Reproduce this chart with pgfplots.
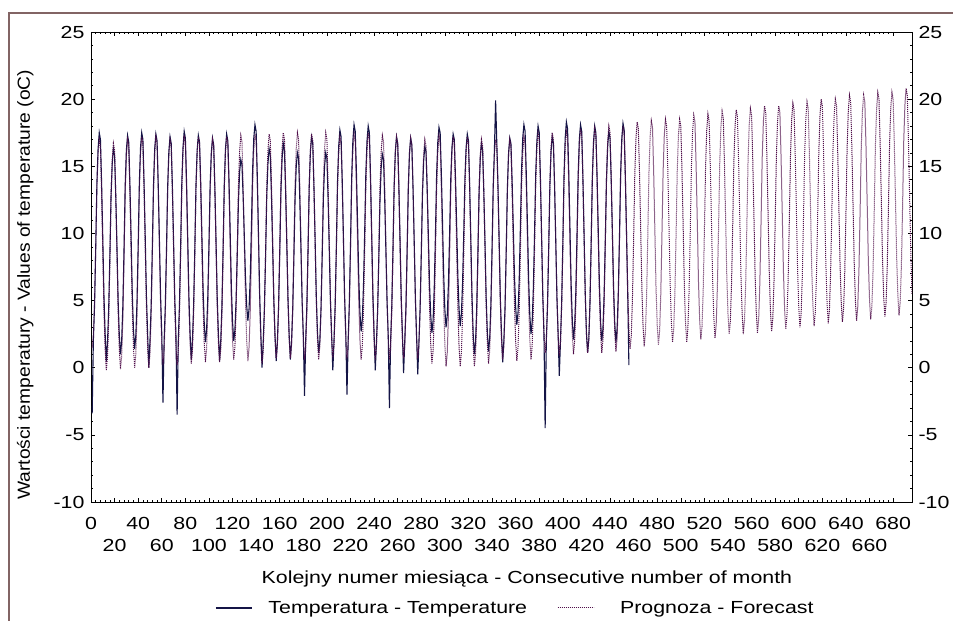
\documentclass[border=0pt]{standalone}
\usepackage{fontspec}
\setmainfont{Liberation Sans}[FakeStretch=1.22]
\newfontfamily\ylabfont{Liberation Sans}[FakeStretch=1.10]
\usepackage{pgfplots}
\usepackage{pgfplotstable}
\pgfplotsset{compat=1.18}

\definecolor{tempc}{RGB}{20,20,70}
\definecolor{progc}{RGB}{80,15,75}
\definecolor{framec}{RGB}{130,100,100}

% monthly temperature, one line per year (months 1..456)
\pgfplotstableread[row sep=\\]{
t\\
-3.4\\ 2.0\\ 4.6\\ 8.9\\ 13.7\\ 16.3\\ 17.5\\ 17.0\\ 13.7\\ 9.6\\ 5.3\\ 2.5\\
0.5\\ 1.9\\ 4.4\\ 8.3\\ 12.8\\ 15.2\\ 16.3\\ 15.8\\ 12.8\\ 9.0\\ 5.0\\ 2.4\\
1.0\\ 2.0\\ 4.6\\ 8.8\\ 13.6\\ 16.2\\ 17.3\\ 16.8\\ 13.6\\ 9.7\\ 5.5\\ 2.8\\
1.4\\ 2.4\\ 4.9\\ 9.1\\ 13.8\\ 16.4\\ 17.5\\ 17.0\\ 13.7\\ 9.6\\ 5.3\\ 2.5\\
0.0\\ 2.0\\ 4.6\\ 8.9\\ 13.6\\ 16.3\\ 17.4\\ 16.9\\ 13.6\\ 9.5\\ 5.3\\ 2.5\\
-2.6\\ 2.0\\ 4.6\\ 8.8\\ 13.5\\ 16.1\\ 17.2\\ 16.7\\ 13.5\\ 9.4\\ 5.2\\ 2.5\\
-3.5\\ 2.0\\ 4.7\\ 9.0\\ 13.8\\ 16.4\\ 17.6\\ 17.1\\ 13.8\\ 9.6\\ 5.3\\ 2.5\\
0.6\\ 2.0\\ 4.6\\ 8.8\\ 13.6\\ 16.2\\ 17.3\\ 16.8\\ 13.8\\ 9.9\\ 5.9\\ 3.3\\
1.9\\ 2.8\\ 5.2\\ 9.2\\ 13.6\\ 16.0\\ 17.1\\ 16.6\\ 13.4\\ 9.4\\ 5.2\\ 2.5\\
0.5\\ 2.0\\ 4.6\\ 8.9\\ 13.6\\ 16.3\\ 17.4\\ 16.9\\ 13.9\\ 10.0\\ 6.0\\ 3.4\\
2.0\\ 2.8\\ 5.0\\ 8.5\\ 12.4\\ 14.6\\ 15.5\\ 15.1\\ 12.7\\ 9.7\\ 6.6\\ 4.6\\
3.5\\ 4.4\\ 6.7\\ 10.5\\ 14.7\\ 17.1\\ 18.1\\ 17.6\\ 14.2\\ 9.9\\ 5.4\\ 2.5\\
0.0\\ 1.9\\ 4.4\\ 8.3\\ 12.8\\ 15.2\\ 16.3\\ 15.8\\ 12.8\\ 9.0\\ 5.0\\ 2.4\\
0.5\\ 1.9\\ 4.5\\ 8.5\\ 13.1\\ 15.6\\ 16.7\\ 16.2\\ 13.1\\ 9.2\\ 5.1\\ 2.4\\
0.6\\ 1.9\\ 4.3\\ 8.2\\ 12.6\\ 15.0\\ 16.0\\ 15.6\\ 12.6\\ 8.8\\ 4.9\\ 2.4\\
-2.1\\ 2.0\\ 4.6\\ 8.8\\ 13.5\\ 16.1\\ 17.2\\ 16.7\\ 13.5\\ 9.5\\ 5.3\\ 2.6\\
1.1\\ 2.0\\ 4.4\\ 8.3\\ 12.6\\ 15.0\\ 16.0\\ 15.6\\ 12.6\\ 8.8\\ 4.9\\ 2.4\\
-0.2\\ 2.0\\ 4.7\\ 9.0\\ 13.9\\ 16.5\\ 17.7\\ 17.2\\ 13.9\\ 9.7\\ 5.3\\ 2.5\\
-2.0\\ 2.0\\ 4.8\\ 9.2\\ 14.2\\ 16.9\\ 18.1\\ 17.6\\ 14.6\\ 10.7\\ 6.7\\ 4.1\\
2.7\\ 3.6\\ 6.1\\ 10.0\\ 14.5\\ 16.9\\ 18.0\\ 17.5\\ 14.1\\ 9.8\\ 5.4\\ 2.5\\
-0.2\\ 1.9\\ 4.3\\ 8.2\\ 12.5\\ 14.9\\ 15.9\\ 15.5\\ 12.5\\ 8.7\\ 4.9\\ 2.3\\
-3.0\\ 2.0\\ 4.6\\ 8.8\\ 13.5\\ 16.1\\ 17.2\\ 16.7\\ 13.5\\ 9.4\\ 5.2\\ 2.5\\
-0.4\\ 2.0\\ 4.5\\ 8.7\\ 13.4\\ 16.0\\ 17.1\\ 16.6\\ 13.4\\ 9.4\\ 5.2\\ 2.4\\
-0.5\\ 1.9\\ 4.4\\ 8.4\\ 12.9\\ 15.4\\ 16.5\\ 16.1\\ 13.3\\ 9.8\\ 6.2\\ 3.9\\
2.6\\ 3.5\\ 6.0\\ 9.9\\ 14.4\\ 16.8\\ 17.9\\ 17.5\\ 14.5\\ 10.8\\ 6.9\\ 4.3\\
3.0\\ 3.9\\ 6.2\\ 9.9\\ 14.1\\ 16.4\\ 17.4\\ 17.0\\ 14.1\\ 10.5\\ 6.8\\ 4.4\\
3.1\\ 4.0\\ 6.3\\ 10.0\\ 14.1\\ 16.4\\ 17.4\\ 16.9\\ 13.6\\ 9.5\\ 5.3\\ 2.5\\
1.0\\ 1.9\\ 4.5\\ 8.5\\ 13.1\\ 15.6\\ 16.7\\ 16.2\\ 13.1\\ 9.3\\ 5.2\\ 2.6\\
1.2\\ 2.2\\ 4.7\\ 8.9\\ 13.6\\ 16.2\\ 19.9\\ 16.8\\ 13.6\\ 9.5\\ 5.2\\ 2.5\\
0.4\\ 2.0\\ 4.5\\ 8.7\\ 13.4\\ 16.0\\ 17.1\\ 16.7\\ 13.9\\ 10.4\\ 6.8\\ 4.5\\
3.2\\ 4.1\\ 6.5\\ 10.4\\ 14.7\\ 17.1\\ 18.1\\ 17.6\\ 14.5\\ 10.6\\ 6.6\\ 3.9\\
2.5\\ 3.4\\ 5.9\\ 9.9\\ 14.4\\ 16.9\\ 18.0\\ 17.5\\ 14.1\\ 9.8\\ 5.4\\ 2.5\\
-4.5\\ 2.0\\ 4.6\\ 8.8\\ 13.5\\ 16.1\\ 17.2\\ 16.7\\ 13.5\\ 9.4\\ 5.2\\ 2.5\\
-0.6\\ 2.0\\ 4.8\\ 9.3\\ 14.3\\ 17.1\\ 18.3\\ 17.8\\ 14.6\\ 10.5\\ 6.3\\ 3.6\\
2.1\\ 3.1\\ 5.6\\ 9.8\\ 14.4\\ 17.0\\ 18.1\\ 17.6\\ 14.2\\ 9.9\\ 5.5\\ 2.6\\
1.1\\ 2.1\\ 4.8\\ 9.2\\ 14.1\\ 16.8\\ 18.0\\ 17.5\\ 14.3\\ 10.3\\ 6.2\\ 3.4\\
2.0\\ 2.9\\ 5.4\\ 9.5\\ 14.0\\ 16.5\\ 17.6\\ 17.1\\ 14.0\\ 10.1\\ 6.0\\ 3.3\\
1.9\\ 2.9\\ 5.5\\ 9.7\\ 14.5\\ 17.1\\ 18.2\\ 17.7\\ 14.2\\ 9.9\\ 5.5\\ 0.2\\
}\temp

% fitted values and forecast (months 1..696)
\pgfplotstableread[row sep=\\]{
f\\
1.5\\ 2.4\\ 4.9\\ 8.9\\ 13.4\\ 15.9\\ 17.0\\ 16.5\\ 13.0\\ 8.7\\ 4.3\\ 1.4\\
-0.2\\ 0.8\\ 3.5\\ 7.9\\ 12.8\\ 15.5\\ 16.7\\ 16.2\\ 12.8\\ 8.6\\ 4.3\\ 1.4\\
-0.1\\ 0.9\\ 3.7\\ 8.1\\ 13.1\\ 15.8\\ 17.0\\ 16.5\\ 13.1\\ 8.8\\ 4.4\\ 1.5\\
0.0\\ 1.0\\ 3.8\\ 8.3\\ 13.2\\ 16.0\\ 17.2\\ 16.7\\ 13.2\\ 8.9\\ 4.5\\ 1.5\\
0.0\\ 1.0\\ 3.8\\ 8.3\\ 13.2\\ 16.0\\ 17.2\\ 16.7\\ 13.3\\ 9.0\\ 4.6\\ 1.7\\
0.2\\ 1.2\\ 3.9\\ 8.3\\ 13.1\\ 15.8\\ 17.0\\ 16.5\\ 13.1\\ 8.9\\ 4.6\\ 1.7\\
0.2\\ 1.2\\ 4.0\\ 8.4\\ 13.4\\ 16.1\\ 17.3\\ 16.8\\ 13.4\\ 9.1\\ 4.7\\ 1.8\\
0.3\\ 1.3\\ 4.0\\ 8.4\\ 13.3\\ 16.0\\ 17.2\\ 16.7\\ 13.3\\ 9.1\\ 4.8\\ 1.9\\
0.4\\ 1.4\\ 4.1\\ 8.4\\ 13.2\\ 15.8\\ 17.0\\ 16.5\\ 13.2\\ 9.0\\ 4.7\\ 1.9\\
0.4\\ 1.4\\ 4.1\\ 8.5\\ 13.3\\ 16.0\\ 17.2\\ 16.7\\ 13.4\\ 9.2\\ 4.9\\ 2.1\\
0.6\\ 1.6\\ 4.3\\ 8.6\\ 13.5\\ 16.1\\ 17.3\\ 16.8\\ 13.4\\ 9.2\\ 4.9\\ 2.0\\
0.5\\ 1.5\\ 4.2\\ 8.6\\ 13.5\\ 16.2\\ 17.4\\ 16.9\\ 13.5\\ 9.2\\ 4.8\\ 1.8\\
0.3\\ 1.3\\ 4.1\\ 8.5\\ 13.5\\ 16.2\\ 17.4\\ 16.9\\ 13.6\\ 9.4\\ 5.0\\ 2.2\\
0.7\\ 1.7\\ 4.4\\ 8.8\\ 13.6\\ 16.3\\ 17.5\\ 17.0\\ 13.6\\ 9.4\\ 5.1\\ 2.2\\
0.7\\ 1.7\\ 4.4\\ 8.8\\ 13.6\\ 16.3\\ 17.5\\ 17.0\\ 13.6\\ 9.4\\ 5.0\\ 2.1\\
0.6\\ 1.6\\ 4.3\\ 8.7\\ 13.5\\ 16.2\\ 17.4\\ 16.9\\ 13.5\\ 9.3\\ 5.0\\ 2.1\\
0.6\\ 1.6\\ 4.3\\ 8.7\\ 13.6\\ 16.3\\ 17.5\\ 17.0\\ 13.6\\ 9.4\\ 5.1\\ 2.2\\
0.7\\ 1.7\\ 4.3\\ 8.6\\ 13.4\\ 16.0\\ 17.2\\ 16.7\\ 13.4\\ 9.3\\ 5.0\\ 2.2\\
0.7\\ 1.7\\ 4.4\\ 8.7\\ 13.6\\ 16.2\\ 17.4\\ 16.9\\ 13.5\\ 9.3\\ 5.0\\ 2.1\\
0.6\\ 1.6\\ 4.3\\ 8.7\\ 13.6\\ 16.3\\ 17.5\\ 17.0\\ 13.6\\ 9.4\\ 5.0\\ 2.1\\
0.6\\ 1.6\\ 4.3\\ 8.6\\ 13.5\\ 16.1\\ 17.3\\ 16.8\\ 13.5\\ 9.3\\ 4.9\\ 2.1\\
0.6\\ 1.6\\ 4.3\\ 8.6\\ 13.4\\ 16.0\\ 17.2\\ 16.7\\ 13.4\\ 9.3\\ 5.0\\ 2.2\\
0.7\\ 1.7\\ 4.3\\ 8.6\\ 13.3\\ 16.0\\ 17.1\\ 16.6\\ 13.3\\ 9.2\\ 5.0\\ 2.2\\
0.7\\ 1.7\\ 4.3\\ 8.5\\ 13.3\\ 15.9\\ 17.0\\ 16.5\\ 13.2\\ 9.0\\ 4.6\\ 1.8\\
0.3\\ 1.3\\ 4.0\\ 8.5\\ 13.4\\ 16.1\\ 17.3\\ 16.8\\ 13.3\\ 9.0\\ 4.6\\ 1.7\\
0.1\\ 1.1\\ 3.9\\ 8.3\\ 13.3\\ 16.0\\ 17.2\\ 16.7\\ 13.3\\ 9.0\\ 4.6\\ 1.6\\
0.1\\ 1.1\\ 3.9\\ 8.3\\ 13.3\\ 16.0\\ 17.2\\ 16.7\\ 13.3\\ 9.0\\ 4.6\\ 1.6\\
0.1\\ 1.1\\ 3.8\\ 8.2\\ 13.1\\ 15.8\\ 17.0\\ 16.5\\ 13.2\\ 9.0\\ 4.6\\ 1.8\\
0.3\\ 1.3\\ 4.0\\ 8.3\\ 13.2\\ 15.8\\ 17.0\\ 16.5\\ 13.2\\ 9.1\\ 4.9\\ 2.1\\
0.6\\ 1.6\\ 4.2\\ 8.5\\ 13.2\\ 15.9\\ 17.0\\ 16.5\\ 13.2\\ 9.1\\ 4.8\\ 2.0\\
0.5\\ 1.5\\ 4.2\\ 8.5\\ 13.4\\ 16.0\\ 17.2\\ 16.7\\ 13.4\\ 9.2\\ 4.9\\ 2.1\\
0.6\\ 1.6\\ 4.3\\ 8.7\\ 13.6\\ 16.3\\ 17.5\\ 17.0\\ 13.7\\ 9.6\\ 5.4\\ 2.6\\
1.1\\ 2.1\\ 4.7\\ 9.0\\ 13.7\\ 16.4\\ 17.5\\ 17.0\\ 13.7\\ 9.5\\ 5.2\\ 2.4\\
0.9\\ 1.9\\ 4.6\\ 8.9\\ 13.8\\ 16.4\\ 17.6\\ 17.1\\ 13.8\\ 9.6\\ 5.3\\ 2.5\\
1.0\\ 2.0\\ 4.7\\ 9.1\\ 13.9\\ 16.6\\ 17.8\\ 17.3\\ 14.0\\ 9.8\\ 5.4\\ 2.6\\
1.1\\ 2.1\\ 4.8\\ 9.1\\ 14.0\\ 16.6\\ 17.8\\ 17.3\\ 14.0\\ 9.8\\ 5.4\\ 2.6\\
1.1\\ 2.1\\ 4.8\\ 9.2\\ 14.1\\ 16.8\\ 18.0\\ 17.5\\ 14.1\\ 9.9\\ 5.6\\ 2.7\\
1.2\\ 2.2\\ 4.9\\ 9.3\\ 14.1\\ 16.8\\ 18.0\\ 17.5\\ 14.2\\ 10.0\\ 5.7\\ 2.9\\
1.4\\ 2.4\\ 5.1\\ 9.5\\ 14.4\\ 17.1\\ 18.3\\ 17.8\\ 14.5\\ 10.3\\ 5.9\\ 3.1\\
1.6\\ 2.6\\ 5.3\\ 9.7\\ 14.5\\ 17.2\\ 18.4\\ 17.9\\ 14.6\\ 10.4\\ 6.0\\ 3.2\\
1.7\\ 2.7\\ 5.4\\ 9.8\\ 14.6\\ 17.3\\ 18.5\\ 18.0\\ 14.7\\ 10.5\\ 6.2\\ 3.4\\
1.9\\ 2.9\\ 5.6\\ 9.9\\ 14.7\\ 17.3\\ 18.5\\ 18.0\\ 14.7\\ 10.5\\ 6.2\\ 3.4\\
1.9\\ 2.9\\ 5.6\\ 10.0\\ 14.9\\ 17.6\\ 18.8\\ 18.3\\ 15.0\\ 10.8\\ 6.4\\ 3.6\\
2.1\\ 3.1\\ 5.8\\ 10.2\\ 15.0\\ 17.7\\ 18.9\\ 18.4\\ 15.1\\ 10.9\\ 6.5\\ 3.7\\
2.2\\ 3.2\\ 5.9\\ 10.3\\ 15.2\\ 17.9\\ 19.1\\ 18.6\\ 15.3\\ 11.1\\ 6.8\\ 4.0\\
2.5\\ 3.5\\ 6.2\\ 10.5\\ 15.4\\ 18.0\\ 19.2\\ 18.7\\ 15.4\\ 11.2\\ 6.8\\ 4.0\\
2.5\\ 3.5\\ 6.2\\ 10.6\\ 15.4\\ 18.1\\ 19.3\\ 18.8\\ 15.5\\ 11.3\\ 6.9\\ 4.1\\
2.6\\ 3.6\\ 6.3\\ 10.7\\ 15.6\\ 18.3\\ 19.5\\ 19.0\\ 15.6\\ 11.4\\ 7.1\\ 4.2\\
2.7\\ 3.7\\ 6.4\\ 10.8\\ 15.6\\ 18.3\\ 19.5\\ 19.0\\ 15.7\\ 11.5\\ 7.2\\ 4.4\\
2.9\\ 3.9\\ 6.6\\ 11.0\\ 15.8\\ 18.5\\ 19.7\\ 19.2\\ 15.9\\ 11.7\\ 7.3\\ 4.5\\
3.0\\ 4.0\\ 6.7\\ 11.1\\ 15.9\\ 18.6\\ 19.8\\ 19.3\\ 16.0\\ 11.8\\ 7.4\\ 4.6\\
3.1\\ 4.1\\ 6.8\\ 11.2\\ 16.1\\ 18.8\\ 20.0\\ 19.5\\ 16.2\\ 12.0\\ 7.6\\ 4.8\\
3.3\\ 4.3\\ 7.0\\ 11.3\\ 16.2\\ 18.8\\ 20.0\\ 19.5\\ 16.2\\ 12.0\\ 7.7\\ 4.9\\
3.4\\ 4.4\\ 7.1\\ 11.5\\ 16.4\\ 19.1\\ 20.3\\ 19.8\\ 16.4\\ 12.2\\ 7.9\\ 5.0\\
3.5\\ 4.5\\ 7.2\\ 11.6\\ 16.4\\ 19.1\\ 20.3\\ 19.8\\ 16.5\\ 12.3\\ 7.9\\ 5.1\\
3.6\\ 4.6\\ 7.3\\ 11.7\\ 16.6\\ 19.3\\ 20.5\\ 20.0\\ 16.7\\ 12.5\\ 8.1\\ 5.3\\
3.8\\ 4.8\\ 7.5\\ 11.8\\ 16.7\\ 19.3\\ 20.5\\ 20.0\\ 16.7\\ 12.5\\ 8.2\\ 5.4\\
3.9\\ 4.9\\ 7.6\\ 12.0\\ 16.9\\ 19.6\\ 20.8\\ 20.3\\ 16.9\\ 12.7\\ 8.4\\ 5.5\\
}\prog

\begin{document}
\begin{tikzpicture}
\useasboundingbox (-91pt,-119pt) rectangle (862pt,502pt);
\begin{axis}[
    at={(0pt,0pt)}, anchor=south west,
    scale only axis, width=821pt, height=470pt,
    xmin=0, xmax=696, ymin=-10, ymax=25,
    xtick={0,40,...,680},
    extra x ticks={20,60,...,660},
    extra x tick style={tick label style={yshift=-22pt}},
    minor x tick num=9,
    ytick={-10,-5,...,25},
    minor y tick num=4,
    major tick length=4pt, minor tick length=2pt,
    tick style={black, line width=0.6pt},
    axis line style={line width=0.8pt},
    /pgf/number format/assume math mode=true,
    tick label style={font=\fontsize{17.5}{20}\selectfont},
    xticklabel style={anchor=center, yshift=-21pt},
    yticklabel style={xshift=-3pt},
    xlabel={Kolejny numer miesiąca - Consecutive number of month},
    xlabel style={at={(axis description cs:0.531,-0.164)}, anchor=center,
        font=\fontsize{17.5}{20}\selectfont},
    ylabel={Wartości temperatury - Values of temperature (oC)},
    ylabel style={at={(axis description cs:-0.080,0.462)}, anchor=center,
        font=\ylabfont\fontsize{17.5}{20}\selectfont},
    legend columns=2,
    legend style={at={(0.517,-0.2255)}, anchor=center, draw=none, fill=none,
        font=\fontsize{17.5}{20}\selectfont,
        /tikz/every even column/.append style={column sep=28pt}},
    legend image code/.code={\draw[#1] (0pt,0pt) -- (36pt,0pt);},
]
\addplot[tempc, line width=1.1pt] table[x expr=\coordindex+1, y=t] {\temp};
\addlegendentry{\hspace{14pt}Temperatura - Temperature}
\addplot[progc, line width=1pt, dash pattern=on 1.1pt off 0.9pt] table[x expr=\coordindex+1, y=f] {\prog};
\addlegendentry{\hspace{24pt}Prognoza - Forecast}
\end{axis}
% right hand tick labels
\begin{axis}[
    at={(0pt,0pt)}, anchor=south west,
    scale only axis, width=821pt, height=470pt,
    xmin=0, xmax=696, ymin=-10, ymax=25,
    axis line style={draw=none}, tick style={draw=none},
    xtick=\empty, ytick={-10,-5,...,25},
    yticklabel pos=right,
    /pgf/number format/assume math mode=true,
    tick label style={font=\fontsize{17.5}{20}\selectfont},
    yticklabel style={xshift=3pt},
]
\end{axis}
\draw[framec, line width=1.6pt] (-82pt,-119pt) -- (-82pt,489pt) -- (862pt,489pt);
\end{tikzpicture}
\end{document}
